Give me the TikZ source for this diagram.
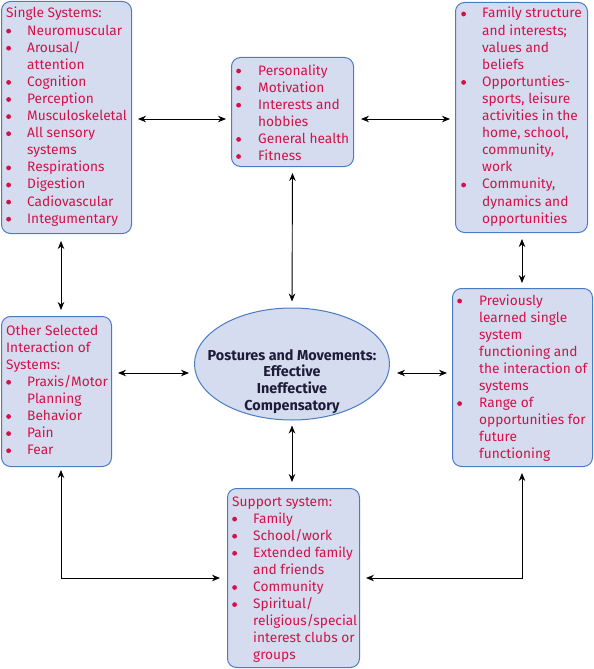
\documentclass[tikz,border=0pt]{standalone}
\usepackage{fontspec}
\setmainfont{Fira Sans}
\usetikzlibrary{arrows.meta,shapes.geometric}
\definecolor{boxfill}{RGB}{213,220,240}
\definecolor{boxline}{RGB}{74,124,196}
\definecolor{itemred}{RGB}{210,18,72}
\definecolor{darktext}{RGB}{28,28,56}
\newcommand\lst[2]{\begin{tabular}[t]{@{}p{#1}@{}l@{}}#2\end{tabular}}
\newcommand\ttl[1]{\multicolumn{2}{@{}l@{}}{#1}}
\newcommand\bu{\tikz[baseline=0pt]\fill[itemred] (2.6pt,4pt) circle (2.4pt);}
\begin{document}
\begin{tikzpicture}[x=1pt,y=-1pt,
  box/.style={draw=boxline, fill=boxfill, line width=1pt, rounded corners=9pt, anchor=north west, inner sep=0pt},
  txt/.style={anchor=base west, inner sep=0pt, text=itemred, font=\fontsize{13.7}{17.1}\selectfont},
  ctxt/.style={anchor=base, inner sep=0pt, text=darktext, font=\fontsize{14.4}{16.7}\selectfont\bfseries},
  dar/.style={{Stealth[length=8pt,width=6.5pt]}-{Stealth[length=8pt,width=6.5pt]}, line width=0.9pt, black}]
\useasboundingbox (0,0) rectangle (594,669);

% coordinates for connector lines
\coordinate (c61) at (61,0);
\coordinate (c522) at (522,0);
\coordinate (c119) at (0,119);
\coordinate (c373) at (0,373);

% boxes
\node[box, minimum width=130pt, minimum height=232pt] (single) at (1,1) {};
\node[box, minimum width=122pt, minimum height=109pt] (pers) at (231,57) {};
\node[box, minimum width=132pt, minimum height=230pt] (fam) at (455,2) {};
\node[box, minimum width=110pt, minimum height=150pt] (other) at (1,316) {};
\node[box, minimum width=140pt, minimum height=178pt] (prev) at (452,288) {};
\node[box, minimum width=132pt, minimum height=179pt] (supp) at (227,488) {};
\node[ellipse, draw=boxline, fill=boxfill, line width=1pt, minimum width=195pt, minimum height=112pt, inner sep=0pt] (ell) at (292,364) {};

% texts
\node[txt] (tsingle) at (6,18) {\lst{21pt}{%
\ttl{Single Systems:}\\
\bu & Neuromuscular\\
\bu & Arousal/\\
 & attention\\
\bu & Cognition\\
\bu & Perception\\
\bu & Musculoskeletal\\
\bu & All sensory\\
 & systems\\
\bu & Respirations\\
\bu & Digestion\\
\bu & Cadiovascular\\
\bu & Integumentary}};

\node[txt] (tpers) at (236,75) {\lst{22pt}{%
\bu & Personality\\
\bu & Motivation\\
\bu & Interests and\\
 & hobbies\\
\bu & General health\\
\bu & Fitness}};

\node[txt] (tfam) at (461,18) {\lst{21pt}{%
\bu & Family structure\\
 & and interests;\\
 & values and\\
 & beliefs\\
\bu & Opportunties-\\
 & sports, leisure\\
 & activities in the\\
 & home, school,\\
 & community,\\
 & work\\
\bu & Community,\\
 & dynamics and\\
 & opportunities}};

\node[txt] (tother) at (6,335) {\lst{21pt}{%
\ttl{Other Selected}\\
\ttl{Interaction of}\\
\ttl{Systems:}\\
\bu & Praxis/Motor\\
 & Planning\\
\bu & Behavior\\
\bu & Pain\\
\bu & Fear}};

\node[txt] (tprev) at (457,305) {\lst{22pt}{%
\bu & Previously\\
 & learned single\\
 & system\\
 & functioning and\\
 & the interaction of\\
 & systems\\
\bu & Range of\\
 & opportunities for\\
 & future\\
 & functioning}};

\node[txt] (tsupp) at (232,506) {\lst{21pt}{%
\ttl{Support system:}\\
\bu & Family\\
\bu & School/work\\
\bu & Extended family\\
 & and friends\\
\bu & Community\\
\bu & Spiritual/\\
 & religious/special\\
 & interest clubs or\\
 & groups}};

\node[ctxt] (tell) at (292,360) {\begin{tabular}[t]{@{}c@{}}Postures and Movements:\\ Effective\\ Ineffective\\ Compensatory\end{tabular}};

% connectors
\draw[dar, shorten <=6pt, shorten >=5pt] (single.east |- c119) -- (pers.west |- c119);
\draw[dar, shorten <=7pt, shorten >=5pt] (pers.east |- c119) -- (fam.west |- c119);
\draw[dar, shorten <=7pt, shorten >=6pt] (c61 |- single.south) -- (c61 |- other.north);
\draw[dar, shorten <=6pt, shorten >=6pt] (pers.south) -- (ell.north);
\draw[dar, shorten <=6pt, shorten >=5pt] (c522 |- fam.south) -- (c522 |- prev.north);
\draw[dar, shorten <=6pt, shorten >=5pt] (other.east |- c373) -- (ell.west |- c373);
\draw[dar, shorten <=7pt, shorten >=5pt] (ell.east |- c373) -- (prev.west |- c373);
\draw[dar, shorten <=5pt, shorten >=6pt] (ell.south) -- (supp.north -| ell.south);
\draw[dar, shorten <=3pt, shorten >=7pt] (c61 |- other.south) |- (supp.west);
\draw[dar, shorten <=6pt, shorten >=6pt] (c522 |- prev.south) |- (supp.east);
\end{tikzpicture}
\end{document}
